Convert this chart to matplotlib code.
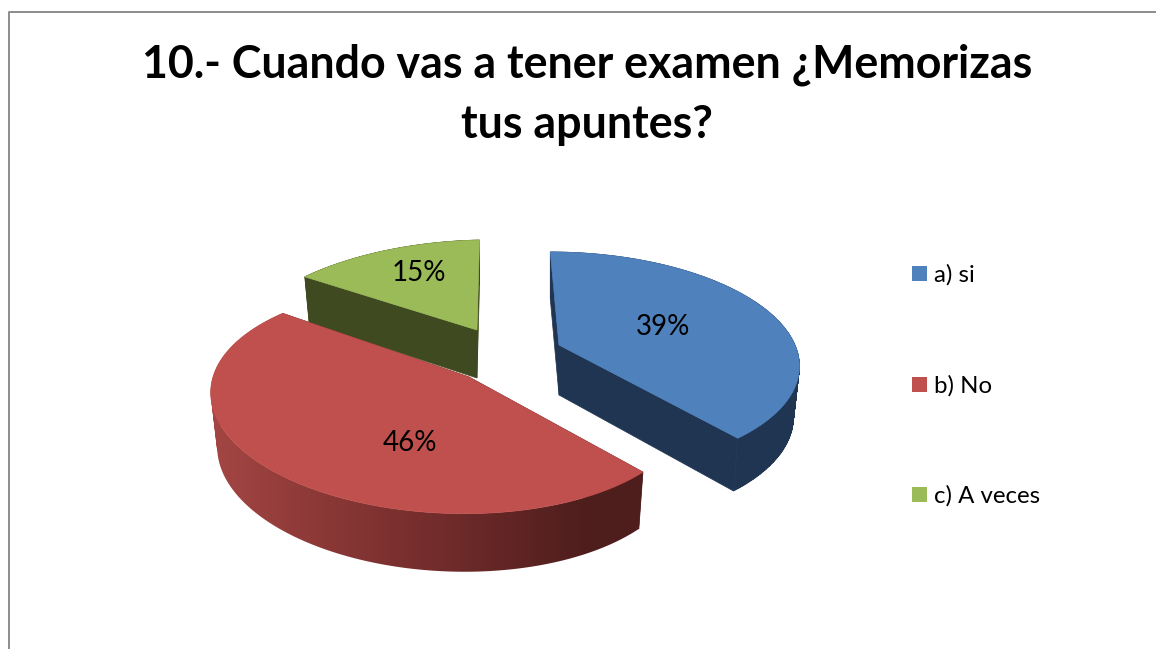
import matplotlib
matplotlib.use("Agg")
import numpy as np
import matplotlib.pyplot as plt
from matplotlib.patches import PathPatch, Polygon, Rectangle
from matplotlib.path import Path

title = "10.- Cuando vas a tener examen ¿Memorizas\ntus apuntes?"
categories = ["a) si", "b) No", "c) A veces"]
values = [39, 46, 15]
percent_labels = ["39%", "46%", "15%"]

top_colors = ["#4F81BD", "#C0504D", "#9BBB59"]
face_colors = ["#1F3552", "#4E1E1D", "#3F4A20"]

# one projection per slice: centre x/y, radii, perspective terms, shears, extrusion
slice_view = [
    dict(cx=559, cy=345, rx=236, ry=107, k=0.15, m=0.0, s=-10, q=0, depth=50),
    dict(cx=469, cy=377, rx=232, ry=109, k=0.2, m=0.09, s=-12, q=-3, depth=54),
    dict(cx=477, cy=330, rx=240, ry=108, k=0.2, m=0.0, s=3, q=5, depth=48),
]
label_pos = [(663, 327), (410, 443), (419, 273)]
legend_y = [275, 386, 496]

# red rim shading, left to right
rim_x = [213, 330, 450, 580, 640]
rim_rgb = [(165, 71, 69), (138, 56, 54), (111, 43, 42), (78, 30, 29), (78, 30, 29)]


def project(t, r, view, bottom=False):
    u = r * np.sin(t)
    v = r * np.cos(t)
    w = 1 + view["k"] * v + view["m"] * u
    rx, ry, cy = view["rx"], view["ry"], view["cy"]
    if bottom:
        rx, ry, cy = rx * 0.975, ry * 1.03, cy + view["depth"]
    x = view["cx"] + (rx * u + view["s"] * v) / w
    y = cy - (ry * v + view["q"] * u) / w
    return x, y


def arc(t0, t1, view, bottom=False, n=200):
    t = np.linspace(t0, t1, n)
    x, y = project(t, 1.0, view, bottom)
    return np.column_stack([x, y])


def draw_face(ax, t, view, color):
    p0 = project(t, 0.0, view)
    p1 = project(t, 1.0, view)
    p2 = project(t, 1.0, view, True)
    p3 = project(t, 0.0, view, True)
    ax.add_patch(Polygon([p0, p1, p2, p3], facecolor=color, edgecolor=color, lw=0.5))


def rim_path(t0, t1, view):
    # union of small quads, all wound the same way, so the sides stay straight
    top = arc(t0, t1, view)
    low = arc(t0, t1, view, True)
    parts = []
    for i in range(len(top) - 1):
        quad = np.array([top[i], top[i + 1], low[i + 1], low[i], top[i]])
        area = np.sum(quad[:-1, 0] * quad[1:, 1] - quad[1:, 0] * quad[:-1, 1])
        if area < 0:
            quad = quad[::-1]
        parts.append(Path(quad, closed=True))
    return Path.make_compound_path(*parts)


def draw_rim(ax, t0, t1, view, color, shaded):
    path = rim_path(t0, t1, view)
    if not shaded:
        ax.add_patch(PathPatch(path, facecolor=color, edgecolor=color, lw=0.5))
        return
    # horizontal gradient clipped to the rim outline
    patch = PathPatch(path, facecolor="none", edgecolor="none")
    ax.add_patch(patch)
    xs = np.linspace(rim_x[0], rim_x[-1], 256)
    grad = np.stack([np.interp(xs, rim_x, [p[j] for p in rim_rgb]) / 255 for j in range(3)], axis=-1)
    im = ax.imshow(grad[np.newaxis, :, :], extent=(rim_x[0] - 10, rim_x[-1] + 10, 600, 300),
                   aspect="auto", interpolation="bilinear", zorder=patch.get_zorder())
    im.set_clip_path(patch)


fig = plt.figure(figsize=(11.56, 6.49), dpi=100)
ax = fig.add_axes([0, 0, 1, 1])
ax.axis("off")

# chart frame, cut off by the screenshot on the right and bottom
ax.plot([8.5, 8.5, 1156], [649, 11.5, 11.5], color="#8C8C8C", lw=1.4)

ax.text(587, 95, title, ha="center", va="center", fontsize=32.2, fontweight="bold",
        family="Lato", color="black", linespacing=1.52)

angles = np.cumsum([0] + values) / sum(values) * 2 * np.pi

# green at the back, then blue, red in front
z = 2
for i in [2, 0, 1]:
    t0, t1 = angles[i], angles[i + 1]
    view = slice_view[i]
    draw_face(ax, t0, view, face_colors[i])
    draw_face(ax, t1, view, face_colors[i])
    draw_rim(ax, t0, t1, view, face_colors[i], shaded=(i == 1))
    top = [project(t0, 0.0, view)] + list(arc(t0, t1, view))
    ax.add_patch(Polygon(top, facecolor=top_colors[i], edgecolor=top_colors[i], lw=0.5, zorder=z))
    z += 1

for (x, y), lab in zip(label_pos, percent_labels):
    ax.text(x, y, lab, ha="center", va="center", fontsize=20, family="Lato", color="black", zorder=10)

for y, cat, col in zip(legend_y, categories, top_colors):
    ax.add_patch(Rectangle((912, y - 9), 15, 15, facecolor=col, edgecolor="none"))
    ax.text(934, y, cat, ha="left", va="center", fontsize=17.3, family="Lato", color="black")

ax.set_xlim(0, 1156)
ax.set_ylim(649, 0)
fig.savefig("out.png", dpi=100)
